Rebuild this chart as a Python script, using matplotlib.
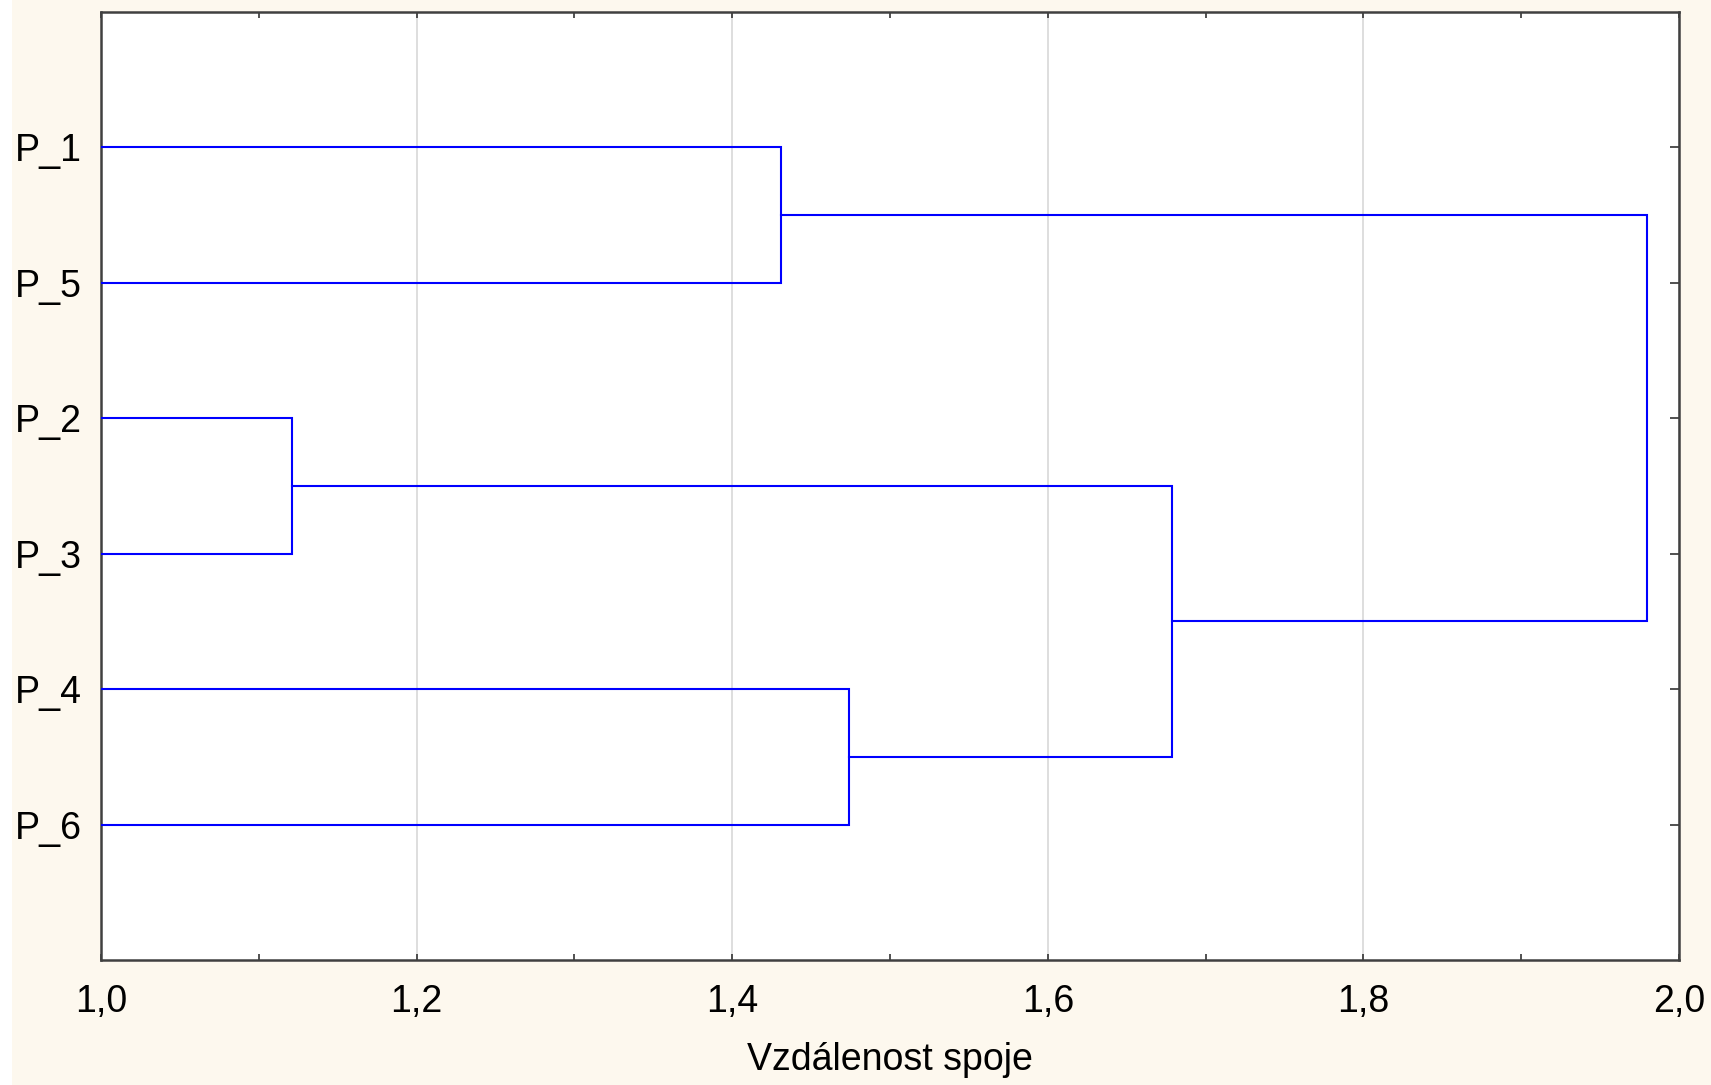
import matplotlib
matplotlib.use("Agg")
import matplotlib.pyplot as plt
from matplotlib.ticker import MultipleLocator, FuncFormatter
from matplotlib.patches import Rectangle

plt.rcParams.update({
    "font.family": ["Liberation Sans", "DejaVu Sans"],
    "font.size": 27,
})

# leaves in drawing order (top to bottom)
LEAVES = ["P_1", "P_5", "P_2", "P_3", "P_4", "P_6"]
# merges: (left member, right member, linkage distance); members >= len(LEAVES) are earlier merges
MERGE_A = [0, 2, 4, 7, 6]
MERGE_B = [1, 3, 5, 8, 9]
MERGE_DIST = [1.431, 1.121, 1.474, 1.679, 1.980]

BG = "#fdf8ee"
LINE = "#0000ff"


def main():
    fig = plt.figure(figsize=(17.11, 10.85), dpi=100, facecolor=BG)
    fig.patches.append(Rectangle((0, 0), 12 / 1711, 1, transform=fig.transFigure,
                                 facecolor="white", edgecolor="none", zorder=-1))
    ax = fig.add_axes([101 / 1711, 1 - 960 / 1085, 1578 / 1711, 948 / 1085])
    ax.set_facecolor("white")

    # node positions: leaves at y = 1..n, distance 0
    ypos = [i + 1 for i in range(len(LEAVES))]
    xpos = [0.0] * len(LEAVES)
    for a, b, d in zip(MERGE_A, MERGE_B, MERGE_DIST):
        ya, yb = ypos[a], ypos[b]
        ax.plot([xpos[a], d, d, xpos[b]], [ya, ya, yb, yb], color=LINE, lw=1.5,
                solid_joinstyle="miter", zorder=3)
        ypos.append((ya + yb) / 2)
        xpos.append(d)

    ax.set_xlim(1.0, 2.0)
    ax.set_ylim(len(LEAVES) + 1, 0)
    ax.set_yticks(range(1, len(LEAVES) + 1))
    ax.set_yticklabels(LEAVES)
    ax.xaxis.set_major_locator(MultipleLocator(0.2))
    ax.xaxis.set_minor_locator(MultipleLocator(0.1))
    ax.xaxis.set_major_formatter(FuncFormatter(lambda v, p: f"{v:.1f}".replace(".", ",")))
    ax.grid(axis="x", which="major", color="#d8d8d8", lw=1.2, zorder=0)

    ax.tick_params(axis="x", which="both", direction="in", top=True, bottom=True,
                   length=4, width=1.2, color="#333333", pad=17, labelsize=27)
    ax.tick_params(axis="y", which="both", direction="in", left=True, right=True,
                   length=6.5, width=1.2, color="#333333", pad=14, labelsize=27)
    for s in ax.spines.values():
        s.set_linewidth(1.8)
        s.set_color("#404040")

    ax.set_xlabel("Vzdálenost spoje", fontsize=27, labelpad=16)

    fig.savefig("out.png", dpi=100, facecolor=BG)


if __name__ == "__main__":
    main()
